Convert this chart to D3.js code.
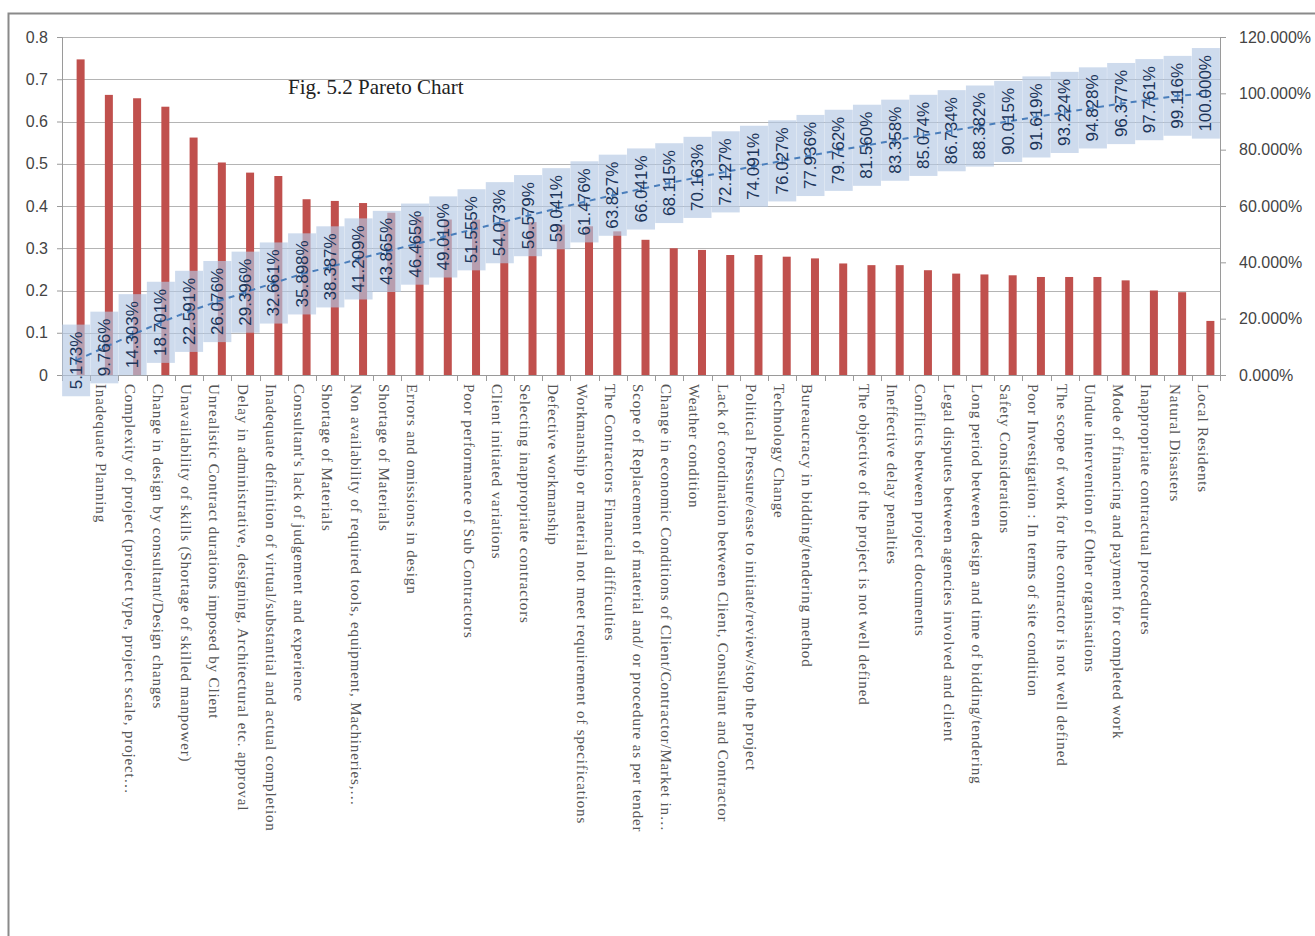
<!DOCTYPE html>
<html>
<head>
<meta charset="utf-8">
<script src="https://cdn.jsdelivr.net/npm/d3@7/dist/d3.min.js"></script>
<style>
  html, body { margin: 0; padding: 0; background: #fff; }
  svg { display: block; }
</style>
</head>
<body>
<svg id="chart" width="1315" height="936"></svg>
<script>
// Causes of delay, in Pareto order (two positions carry no printed name)
const causes = [
  "",
  "Inadequate Planning",
  "Complexity of project (project type, project scale, project…",
  "Change in design by consultant/Design changes",
  "Unavailability of skills (Shortage of skilled manpower)",
  "Unrealistic Contract durations imposed by Client",
  "Delay in administrative, designing, Architectural etc.  approval",
  "Inadequate definition of virtual/substantial and actual completion",
  "Consultant's lack of judgement and experience",
  "Shortage of Materials",
  "Non availability of required tools, equipment, Machineries,…",
  "Shortage of Materials",
  "Errors and omissions in design",
  "",
  "Poor performance of Sub Contractors",
  "Client initiated variations",
  "Selecting inappropriate contractors",
  "Defective workmanship",
  "Workmanship or material not meet requirement of specifications",
  "The Contractors Financial difficulties",
  "Scope of Replacement of material and/ or procedure as per tender",
  "Change in economic Conditions of Client/Contractor/Market in…",
  "Weather condition",
  "Lack of coordination between Client, Consultant and Contractor",
  "Political Pressure/ease to initiate/review/stop the project",
  "Technology Change",
  "Bureaucracy in bidding/tendering method",
  "",
  "The objective of the project is not well defined",
  "Ineffective delay penalties",
  "Conflicts between project documents",
  "Legal disputes between agencies involved and client",
  "Long period between design and time of bidding/tendering",
  "Safety Considerations",
  "Poor Investigation : In terms of site condition",
  "The scope of work for the contractor is not well defined",
  "Undue intervention of Other organisations",
  "Mode of financing and payment for completed work",
  "Inappropriate contractual procedures",
  "Natural Disasters",
  "Local Residents"
];

// Relative importance index of each cause (bars, left axis)
const importance = [
  0.747, 0.663, 0.655, 0.635, 0.562, 0.503, 0.479, 0.471, 0.416, 0.412,
  0.407, 0.384, 0.375, 0.368, 0.368, 0.364, 0.362, 0.356, 0.352, 0.340,
  0.320, 0.300, 0.296, 0.284, 0.284, 0.280, 0.276, 0.264, 0.260, 0.260,
  0.248, 0.240, 0.238, 0.236, 0.232, 0.232, 0.232, 0.224, 0.200, 0.196,
  0.128
];

// Cumulative share, in percent (dashed line, right axis)
const cumulativePct = [
  5.173, 9.766, 14.303, 18.701, 22.591, 26.076, 29.396, 32.661, 35.898, 38.387,
  41.209, 43.865, 46.465, 49.010, 51.555, 54.073, 56.579, 59.041, 61.476, 63.827,
  66.041, 68.115, 70.163, 72.127, 74.091, 76.027, 77.936, 79.762, 81.560, 83.358,
  85.074, 86.734, 88.382, 90.015, 91.619, 93.224, 94.828, 96.377, 97.761, 99.116,
  100.000
];

const leftTicks = [0, 0.1, 0.2, 0.3, 0.4, 0.5, 0.6, 0.7, 0.8];
const rightTicks = [0, 0.2, 0.4, 0.6, 0.8, 1.0, 1.2];
const title = "Fig. 5.2 Pareto Chart";

const svg = d3.select("#chart");
const plot = { left: 62, right: 1220, top: 37, bottom: 375 };

const x = d3.scaleBand().domain(d3.range(causes.length)).range([plot.left, plot.right]).padding(0);
const yL = d3.scaleLinear().domain([0, 0.8]).range([plot.bottom, plot.top]);
const yR = d3.scaleLinear().domain([0, 1.2]).range([plot.bottom, plot.top]);

const sansFont = "'Liberation Sans', Arial, sans-serif";
const serifFont = "'Liberation Serif', 'Times New Roman', serif";

// chart area frame
svg.append("rect")
  .attr("x", 8.5).attr("y", 13.5)
  .attr("width", 1330).attr("height", 960)
  .attr("fill", "#fff").attr("stroke", "#8a8a8a").attr("stroke-width", 2);

// horizontal gridlines at the left-axis ticks
svg.append("g").selectAll("line").data(leftTicks).join("line")
  .attr("x1", plot.left).attr("x2", plot.right)
  .attr("y1", d => Math.round(yL(d)) + 0.5).attr("y2", d => Math.round(yL(d)) + 0.5)
  .attr("stroke", "#b4b4b4").attr("stroke-width", 1);

// left axis
const gL = svg.append("g")
  .attr("transform", `translate(${plot.left},0)`)
  .call(d3.axisLeft(yL).tickValues(leftTicks).tickFormat(d3.format("")).tickSize(5).tickPadding(9));
gL.select(".domain").attr("stroke", "#9a9a9a");
gL.selectAll(".tick line").attr("stroke", "#9a9a9a");
gL.selectAll(".tick text").attr("font-family", sansFont).attr("font-size", 16).attr("fill", "#444");

// right axis
const gR = svg.append("g")
  .attr("transform", `translate(${plot.right},0)`)
  .call(d3.axisRight(yR).tickValues(rightTicks).tickFormat(d3.format(".3%")).tickSize(6).tickPadding(13));
gR.select(".domain").attr("stroke", "#9a9a9a");
gR.selectAll(".tick line").attr("stroke", "#9a9a9a");
gR.selectAll(".tick text").attr("font-family", sansFont).attr("font-size", 16).attr("fill", "#444");

// bars
const barW = 8;
const barShift = 4.5;
svg.append("g").selectAll("rect").data(importance).join("rect")
  .attr("x", (d, i) => x(i) + x.bandwidth() / 2 + barShift - barW / 2)
  .attr("y", d => yL(d))
  .attr("width", barW)
  .attr("height", d => yL(0) - yL(d))
  .attr("fill", "#c0504d");

// category axis
const gX = svg.append("g").attr("transform", `translate(0,${plot.bottom})`);
gX.append("line").attr("x1", plot.left).attr("x2", plot.right)
  .attr("y1", 0.5).attr("y2", 0.5).attr("stroke", "#9a9a9a");
gX.selectAll("line.tk").data(d3.range(causes.length + 1)).join("line")
  .attr("class", "tk")
  .attr("x1", i => Math.round(plot.left + i * x.step()) + 0.5)
  .attr("x2", i => Math.round(plot.left + i * x.step()) + 0.5)
  .attr("y1", 0).attr("y2", 6).attr("stroke", "#9a9a9a");
gX.selectAll("text").data(causes).join("text")
  .attr("transform", (d, i) => `translate(${x(i) + x.bandwidth() / 2 - 3},9) rotate(90)`)
  .attr("text-anchor", "start")
  .attr("dominant-baseline", "central")
  .attr("font-family", serifFont)
  .attr("font-size", 15)
  .attr("letter-spacing", 0.85)
  .attr("fill", "#555")
  .text(d => d);

// cumulative line with its data-label boxes
const cx = i => x(i) + x.bandwidth() / 2;
const labelFmt = d => d3.format(".3f")(d) + "%";
const boxes = svg.append("g");
const line = d3.line().x((d, i) => cx(i)).y(d => yR(d / 100));
svg.append("path")
  .datum(cumulativePct)
  .attr("d", line)
  .attr("fill", "none")
  .attr("stroke", "#4a7ebb")
  .attr("stroke-width", 2)
  .attr("stroke-dasharray", "6,5");
svg.append("g").selectAll("line").data(cumulativePct).join("line")
  .attr("x1", (d, i) => cx(i)).attr("x2", (d, i) => cx(i))
  .attr("y1", d => yR(d / 100) - 4).attr("y2", d => yR(d / 100) + 4)
  .attr("stroke", "#4a7ebb").attr("stroke-width", 1.5);

const texts = svg.append("g").selectAll("text").data(cumulativePct).join("text")
  .attr("transform", (d, i) => `translate(${cx(i)},${yR(d / 100)}) rotate(-90)`)
  .attr("text-anchor", "middle")
  .attr("dominant-baseline", "central")
  .attr("font-family", sansFont)
  .attr("font-size", 17)
  .attr("fill", "#1c355a")
  .text(labelFmt);

texts.each(function (d, i) {
  const len = this.getComputedTextLength();
  const h = len + 14;
  boxes.append("rect")
    .attr("x", cx(i) - 14)
    .attr("y", yR(d / 100) - h / 2)
    .attr("width", 28)
    .attr("height", h)
    .attr("fill", "#b3c8e4")
    .attr("opacity", 0.65);
});

// title
svg.append("text")
  .attr("x", 288).attr("y", 94)
  .attr("font-family", serifFont)
  .attr("font-size", 21)
  .attr("fill", "#222")
  .text(title);
</script>
</body>
</html>
